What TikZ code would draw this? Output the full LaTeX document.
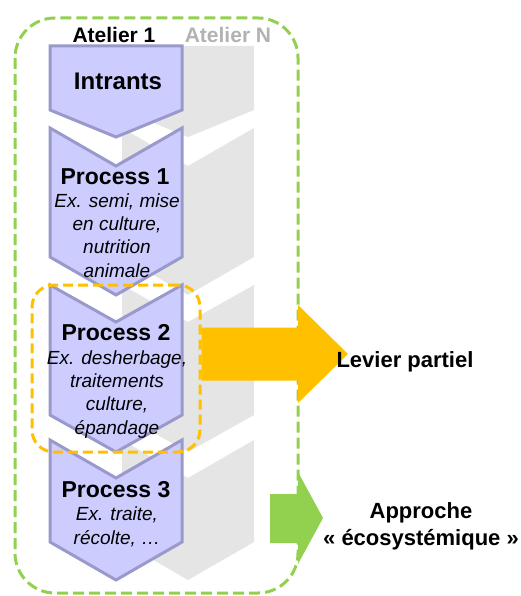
\documentclass[tikz,border=0pt]{standalone}
\usepackage{fontspec}
\setmainfont{Liberation Sans}
\usepackage{xcolor}
\usepackage{tikz}
\usetikzlibrary{positioning}

\definecolor{chevfill}{RGB}{204,204,255}
\definecolor{chevline}{RGB}{153,153,204}
\definecolor{shadowgray}{RGB}{229,229,229}
\definecolor{ateliergray}{RGB}{178,178,178}
\definecolor{levierorange}{RGB}{255,192,0}
\definecolor{ecogreen}{RGB}{146,208,80}

\begin{document}
\begin{tikzpicture}[x=1pt,y=-1pt]
\useasboundingbox (0,0) rectangle (521,596);

% atelier N, behind
\begin{scope}[xshift=72pt]
  \fill[shadowgray] (50,46) -- (182,46) -- (182,110) -- (116,137) -- (50,110) -- cycle;
  \fill[shadowgray] (50,128) -- (116,166) -- (182,128) -- (182,257) -- (116,295) -- (50,257) -- cycle;
  \fill[shadowgray] (50,285) -- (116,322) -- (182,285) -- (182,415) -- (116,452) -- (50,415) -- cycle;
  \fill[shadowgray] (50,440) -- (116,478) -- (182,440) -- (182,542) -- (116,580) -- (50,542) -- cycle;
\end{scope}

% atelier 1
\begin{scope}[every path/.style={fill=chevfill, draw=chevline, line width=3pt, line join=miter}]
  \path (50,46) -- (182,46) -- (182,110) -- (116,137) -- (50,110) -- cycle;
  \path (50,128) -- (116,166) -- (182,128) -- (182,257) -- (116,295) -- (50,257) -- cycle;
  \path (50,285) -- (116,322) -- (182,285) -- (182,415) -- (116,452) -- (50,415) -- cycle;
  \path (50,440) -- (116,478) -- (182,440) -- (182,542) -- (116,580) -- (50,542) -- cycle;
\end{scope}

% frames
\draw[ecogreen, line width=3pt, dash pattern=on 11pt off 5pt, rounded corners=40pt]
  (15,18) rectangle (298,593);
\node[draw=levierorange, line width=3pt, dash pattern=on 10pt off 5pt, rounded corners=22pt,
      minimum width=168pt, minimum height=167pt] (levierBox) at (116,368.5) {};

% levers
\fill[levierorange] (levierBox.east |- 0,327.5) -- (298,327.5) -- (298,305) -- (348,354)
  -- (298,403) -- (298,380.5) -- (levierBox.east |- 0,380.5) -- cycle;
\fill[ecogreen] (270,494) -- (298,494) -- (298,472) -- (323,518)
  -- (298,564) -- (298,543) -- (270,543) -- cycle;

% base = last line
\begin{scope}[every node/.style={anchor=base, inner sep=0pt, align=center}]
  \node[font=\fontsize{21}{25}\selectfont\bfseries] (at1) at (114,43) {Atelier 1};
  \node[font=\fontsize{21}{25}\selectfont\bfseries, text=ateliergray] (atN) at (228,43) {Atelier N};
  \node[font=\fontsize{24}{28}\selectfont\bfseries] (intrants) at (118,90) {Intrants};
  \node[font=\fontsize{23}{27}\selectfont\bfseries] (p1) at (115,184) {Process 1};
  \node[font=\fontsize{19}{23.3}\selectfont\itshape] (p1ex) at (117,277)
    {Ex. semi, mise\\ en culture,\\ nutrition\\ animale};
  \node[font=\fontsize{23}{27}\selectfont\bfseries] (p2) at (116,340) {Process 2};
  \node[font=\fontsize{19}{23.3}\selectfont\itshape] (p2ex) at (117,434)
    {Ex. desherbage,\\ traitements\\ culture,\\ épandage};
  \node[font=\fontsize{23}{27}\selectfont\bfseries] (p3) at (116,497) {Process 3};
  \node[font=\fontsize{19}{23.3}\selectfont\itshape] (p3ex) at (117,544)
    {Ex. traite,\\ récolte, …};
  \node[font=\fontsize{22}{26}\selectfont\bfseries] (levier) at (405,367) {Levier partiel};
  \node[font=\fontsize{22}{27}\selectfont\bfseries] (approche) at (421,545)
    {Approche\\ « écosystémique »};
\end{scope}
\end{tikzpicture}
\end{document}
